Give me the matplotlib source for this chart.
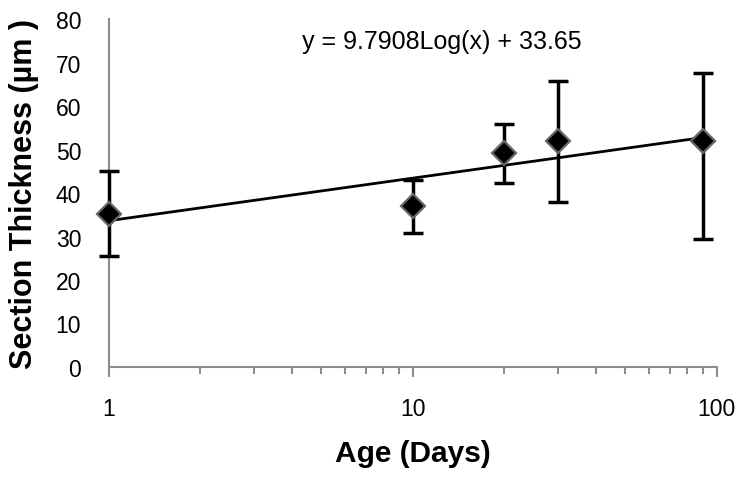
import numpy as np
import matplotlib
matplotlib.use("Agg")
import matplotlib.pyplot as plt
from matplotlib.ticker import LogLocator, FixedLocator, NullFormatter

plt.rcParams['font.family'] = ['Liberation Sans', 'DejaVu Sans']

age = [1, 10, 20, 30, 90]
thickness = [35.2, 37.0, 49.3, 52.0, 52.0]
err_low = [25.5, 30.8, 42.4, 38.0, 29.4]
err_high = [45.0, 43.0, 55.9, 65.8, 67.6]
slope = 9.7908
intercept = 33.65
eq_text = "y = 9.7908Log(x) + 33.65"

fig = plt.figure(figsize=(7.49, 4.81), dpi=100)
ax = fig.add_axes([0.1455, 0.235, 0.957 - 0.1455, 0.958 - 0.235])

yerr = [np.array(thickness) - np.array(err_low), np.array(err_high) - np.array(thickness)]
eb = ax.errorbar(age, thickness, yerr=yerr, fmt='none', ecolor='black', elinewidth=2.5,
                 capsize=7, capthick=2.5, zorder=3)
for art in eb.lines[1] + eb.lines[2]:
    art.set_clip_on(False)

xs = np.logspace(0, np.log10(max(age)), 200)
ax.plot(xs, slope * np.log10(xs) + intercept, color='black', lw=2, zorder=4)

ax.plot(age, thickness, linestyle='none', marker='D', markersize=12.5,
        markerfacecolor='black', markeredgecolor='#666666', markeredgewidth=1.6,
        zorder=5, clip_on=False)

ax.set_xscale('log')
ax.set_xlim(1, 100)
ax.set_ylim(0, 80)
ax.set_yticks(range(0, 81, 10))
ax.xaxis.set_major_locator(FixedLocator([1, 10, 100]))
ax.set_xticklabels(['1', '10', '100'])
ax.xaxis.set_minor_locator(LogLocator(base=10, subs=np.arange(2, 10)))
ax.xaxis.set_minor_formatter(NullFormatter())

for s in ['top', 'right']:
    ax.spines[s].set_visible(False)
for s in ['left', 'bottom']:
    ax.spines[s].set_color('#8c8c8c')
    ax.spines[s].set_linewidth(1.5)

ax.tick_params(axis='y', length=0, pad=20, labelsize=16.5)
ax.tick_params(axis='x', which='major', length=7, width=1.5, color='#8c8c8c', direction='out',
               pad=14.5, labelsize=16.5)
ax.tick_params(axis='x', which='minor', length=5, width=1.5, color='#8c8c8c', direction='out')

ax.set_xlabel('Age (Days)', fontsize=21.5, fontweight='bold', labelpad=14)
ax.set_ylabel('Section Thickness (µm )', fontsize=22, fontweight='bold', labelpad=12)

ax.text(0.548, 0.937, eq_text, transform=ax.transAxes, ha='center', va='center', fontsize=18)

fig.savefig('out.png', dpi=100)
